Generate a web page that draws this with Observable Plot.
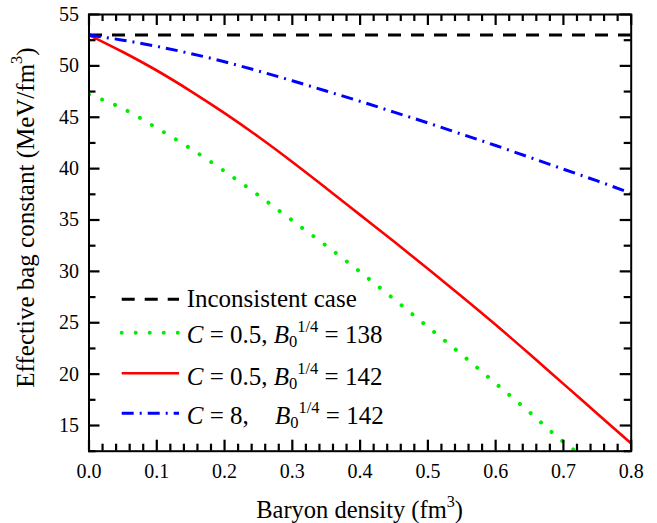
<!DOCTYPE html>
<html><head><meta charset="utf-8">
<script src="https://cdn.jsdelivr.net/npm/d3@7"></script>
<script src="https://cdn.jsdelivr.net/npm/@observablehq/plot@0.6"></script>
<style>body{margin:0;background:#fff}svg{display:block}</style>
</head><body><div id="chart"></div>
<script>
// ---- data ----
const density = [0, 0.05, 0.1, 0.15, 0.2, 0.25, 0.3, 0.35, 0.4, 0.45, 0.5, 0.55, 0.6, 0.65, 0.7, 0.75, 0.8];
const inconsistentCase = [53, 53, 53, 53, 53, 53, 53, 53, 53, 53, 53, 53, 53, 53, 53, 53, 53];
const c05B142 = [53, 51.35, 49.55, 47.55, 45.4, 43.1, 40.65, 38.1, 35.5, 32.9, 30.25, 27.55, 24.8, 21.95, 19.05, 16.15, 13.25];
const c8B142 = [53, 52.5, 51.9, 51.2, 50.4, 49.5, 48.55, 47.55, 46.55, 45.5, 44.45, 43.35, 42.25, 41.1, 39.95, 38.8, 37.6];
const densityGreen = [0, 0.05, 0.1, 0.15, 0.2, 0.25, 0.3, 0.35, 0.4, 0.45, 0.5, 0.55, 0.6, 0.65, 0.7, 0.72];
const c05B138 = [47.2, 45.85, 43.95, 41.95, 39.75, 37.4, 34.95, 32.5, 29.95, 27.3, 24.6, 21.9, 19.1, 16.3, 13.4, 12.4];

const xTickValues = [0, 0.1, 0.2, 0.3, 0.4, 0.5, 0.6, 0.7, 0.8];
const yTickValues = [15, 20, 25, 30, 35, 40, 45, 50, 55];
const xDomain = [0, 0.8];
const yDomain = [12.5, 55];

const seriesNames = ["Inconsistent case", "C = 0.5, B0^1/4 = 138", "C = 0.5, B0^1/4 = 142", "C = 8, B0^1/4 = 142"];
const seriesColors = ["#000000", "#00ee00", "#ff0000", "#0000ff"];
const seriesDash = ["13,10", "0.01,14", null, "12,6,2,6"];
const seriesWidth = [3, 4, 2.6, 3];
const seriesCap = ["butt", "round", "butt", "butt"];
const seriesX = [density, densityGreen, density, density];
const seriesY = [inconsistentCase, c05B138, c05B142, c8B142];

// ---- layout ----
const W = 657, H = 523;
const mL = 88.5, mR = 26.3, mT = 14, mB = 72.3;
const innerW = W - mL - mR, innerH = H - mT - mB;
const FONT = "Liberation Serif, Times New Roman, serif";

const xMinor = d3.range(0, 0.8001, 0.02).filter(v => !xTickValues.some(t => Math.abs(t - v) < 1e-6));
const yMinor = d3.range(12.5, 55.01, 2.5).filter(v => !yTickValues.some(t => Math.abs(t - v) < 1e-6));
const majorLen = 11, minorLen = 7, tickW = 2.2;
const kx = (xDomain[1] - xDomain[0]) / innerW;
const ky = (yDomain[1] - yDomain[0]) / innerH;

const lineMarks = seriesNames.map((name, i) => {
  const rows = seriesX[i].map((x, j) => ({x, y: seriesY[i][j]}));
  return Plot.line(rows, {
    x: "x", y: "y", stroke: seriesColors[i], strokeWidth: seriesWidth[i],
    strokeDasharray: seriesDash[i], strokeLinecap: seriesCap[i],
    curve: "monotone-x", clip: true
  });
});

// inward ticks on all four sides
const tickMarks = [];
for (const [vals, L] of [[xTickValues, majorLen], [xMinor, minorLen]]) {
  tickMarks.push(Plot.ruleX(vals, {x: d => d, y1: yDomain[0], y2: yDomain[0] + L * ky, stroke: "#000", strokeWidth: tickW}));
  tickMarks.push(Plot.ruleX(vals, {x: d => d, y1: yDomain[1], y2: yDomain[1] - L * ky, stroke: "#000", strokeWidth: tickW}));
}
for (const [vals, L] of [[yTickValues, majorLen], [yMinor, minorLen]]) {
  tickMarks.push(Plot.ruleY(vals, {y: d => d, x1: xDomain[0], x2: xDomain[0] + L * kx, stroke: "#000", strokeWidth: tickW}));
  tickMarks.push(Plot.ruleY(vals, {y: d => d, x1: xDomain[1], x2: xDomain[1] - L * kx, stroke: "#000", strokeWidth: tickW}));
}

const chart = Plot.plot({
  width: W, height: H,
  marginLeft: mL, marginRight: mR, marginTop: mT, marginBottom: mB,
  style: {fontFamily: FONT, background: "#fff", color: "#000"},
  x: {domain: xDomain},
  y: {domain: yDomain},
  marks: [
    ...lineMarks,
    ...tickMarks,
    Plot.axisX({anchor: "bottom", ticks: xTickValues, tickSize: 0, tickPadding: 13, tickFormat: d3.format(".1f"), label: null, fontSize: 20}),
    Plot.axisY({anchor: "left", ticks: yTickValues, tickSize: 0, tickPadding: 10, tickFormat: d3.format("d"), label: null, fontSize: 20}),
    Plot.frame({stroke: "#000", strokeWidth: 2})
  ]
});
document.getElementById("chart").appendChild(chart);

const svgSel = d3.select(chart);
const pxLeft = mL, pxRight = W - mR;

// ---- titles and legend (real SVG text) ----
function richText(g, parts, size) {
  const t = g.append("text").attr("font-family", FONT).attr("font-size", size)
    .attr("fill", "#000").attr("text-anchor", "start");
  let shift = 0;
  for (const p of parts) {
    const [txt, kind, dx] = p;
    const ts = t.append("tspan").text(txt);
    let target = 0, fs = size;
    if (kind === "sub") { target = 0.14 * size; fs = 0.66 * size; }
    else if (kind === "sup") { target = -0.46 * size; fs = 0.66 * size; }
    if (kind === "i") ts.attr("font-style", "italic");
    ts.attr("font-size", fs);
    const dy = target - shift;
    if (dy !== 0) ts.attr("dy", dy);
    if (dx) ts.attr("dx", dx);
    shift = target;
  }
  return t;
}

richText(svgSel.append("g").attr("transform", `translate(${(pxLeft + pxRight) / 2},518)`),
  [["Baryon density (fm", "n"], ["3", "sup"], [")", "n"]], 24.5).attr("text-anchor", "middle");
richText(svgSel.append("g").attr("transform", `translate(33.5,217.5) rotate(-90)`),
  [["Effective bag constant (MeV/fm", "n"], ["3", "sup"], [")", "n"]], 25).attr("text-anchor", "middle");

const legendLineY = [299.3, 332.7, 373.3, 413.3];
const legendBase = [307.3, 343.3, 385, 424];
const legendParts = [
  [["Inconsistent case", "n"]],
  [["C", "i"], [" = 0.5, ", "n"], ["B", "i"], ["0", "sub"], ["1/4", "sup"], [" = 138", "n"]],
  [["C", "i"], [" = 0.5, ", "n"], ["B", "i"], ["0", "sub"], ["1/4", "sup"], [" = 142", "n"]],
  [["C", "i"], [" = 8, ", "n"], ["B", "i", 20], ["0", "sub"], ["1/4", "sup"], [" = 142", "n"]]
];
const lg = svgSel.append("g");
seriesNames.forEach((name, i) => {
  lg.append("line")
    .attr("x1", pxLeft + 33.2).attr("x2", pxLeft + 90.5)
    .attr("y1", legendLineY[i]).attr("y2", legendLineY[i])
    .attr("stroke", seriesColors[i]).attr("stroke-width", seriesWidth[i])
    .attr("stroke-dasharray", seriesDash[i]).attr("stroke-linecap", seriesCap[i]);
  richText(lg.append("g").attr("transform", `translate(${pxLeft + 98.2},${legendBase[i]})`), legendParts[i], 25);
});
</script>
</body></html>
